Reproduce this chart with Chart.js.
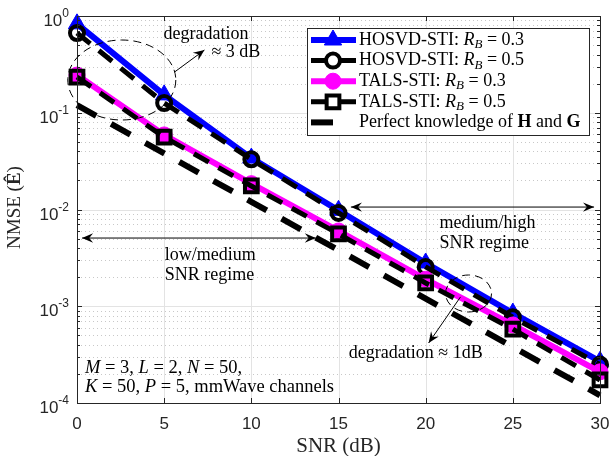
<!DOCTYPE html>
<html>
<head>
<meta charset="utf-8">
<script src="https://cdn.jsdelivr.net/npm/chart.js@4.4.1/dist/chart.umd.min.js"></script>
<style>
  html, body { margin: 0; padding: 0; background: #fff; }
</style>
</head>
<body>
<canvas id="nmseChart" width="613" height="456"></canvas>
<script>
// SNR points (dB)
var snr = [0, 5, 10, 15, 20, 25, 30];
// NMSE values
var hosvd03 = [0.83, 0.153, 0.034, 0.0098, 0.0028, 0.00085, 0.00027];
var hosvd05 = [0.667, 0.126, 0.033, 0.0092, 0.00255, 0.00077, 0.00025];
var tals03 = [0.245, 0.059, 0.0185, 0.0060, 0.0019, 0.00064, 0.00021];
var tals05 = [0.234, 0.056, 0.0175, 0.0056, 0.00174, 0.00058, 0.000173];
var perfect = [0.12, 0.038, 0.012, 0.0038, 0.0012, 0.00038, 0.00012];
var xTicks = [0, 5, 10, 15, 20, 25, 30];
var yExps = [0, -1, -2, -3, -4];

var SERIF = '"Liberation Serif", "Times New Roman", serif';
var SANS = '"Liberation Sans", Arial, sans-serif';
var AX = '#262626';

function pts(ys) {
    return snr.map(function (x, i) { return { x: x, y: ys[i] }; });
}

// draw mixed-style text: parts = [[text, style]], style '' | 'i' | 'b' | 'sub'
function rich(ctx, parts, x, y, size, align) {
    var w = 0;
    var fonts = parts.map(function (p) {
        var s = p[1];
        var f = s === 'i' ? 'italic ' + size + 'px ' + SERIF :
                s === 'b' ? 'bold ' + size + 'px ' + SERIF :
                s === 'sub' ? 'italic ' + Math.round(size * 0.7) + 'px ' + SERIF :
                size + 'px ' + SERIF;
        ctx.font = f;
        w += ctx.measureText(p[0]).width;
        return f;
    });
    var cx = align === 'center' ? x - w / 2 : (align === 'right' ? x - w : x);
    ctx.textAlign = 'left';
    ctx.textBaseline = 'middle';
    parts.forEach(function (p, i) {
        ctx.font = fonts[i];
        ctx.fillText(p[0], cx, p[1] === 'sub' ? y + size * 0.25 : y);
        cx += ctx.measureText(p[0]).width;
    });
}

function arrowHead(ctx, x1, y1, x2, y2, len) {
    var a = Math.atan2(y2 - y1, x2 - x1);
    ctx.beginPath();
    ctx.moveTo(x2, y2);
    ctx.lineTo(x2 - len * Math.cos(a - 0.4), y2 - len * Math.sin(a - 0.4));
    ctx.lineTo(x2 - len * 0.6 * Math.cos(a), y2 - len * 0.6 * Math.sin(a));
    ctx.lineTo(x2 - len * Math.cos(a + 0.4), y2 - len * Math.sin(a + 0.4));
    ctx.closePath();
    ctx.fill();
}

var figPlugin = {
    id: 'figPlugin',
    beforeDatasetsDraw: function (chart) {
        var ctx = chart.ctx, a = chart.chartArea;
        var xs = chart.scales.x, ys = chart.scales.y;
        ctx.save();
        // minor dotted grid
        ctx.strokeStyle = '#c8c8c8';
        ctx.lineWidth = 1;
        ctx.setLineDash([1, 3]);
        for (var e = -4; e < 0; e++) {
            for (var m = 2; m <= 9; m++) {
                var py = Math.round(ys.getPixelForValue(m * Math.pow(10, e))) + 0.5;
                ctx.beginPath(); ctx.moveTo(a.left, py); ctx.lineTo(a.right, py); ctx.stroke();
            }
        }
        // major grid
        ctx.setLineDash([]);
        ctx.strokeStyle = '#e3e3e3';
        xTicks.forEach(function (t) {
            var px = Math.round(xs.getPixelForValue(t)) + 0.5;
            ctx.beginPath(); ctx.moveTo(px, a.top); ctx.lineTo(px, a.bottom); ctx.stroke();
        });
        yExps.forEach(function (e) {
            var py = Math.round(ys.getPixelForValue(Math.pow(10, e))) + 0.5;
            ctx.beginPath(); ctx.moveTo(a.left, py); ctx.lineTo(a.right, py); ctx.stroke();
        });
        ctx.restore();
    },
    afterDraw: function (chart) {
        var ctx = chart.ctx, a = chart.chartArea;
        var xs = chart.scales.x, ys = chart.scales.y;
        var P = function (x, y) { return [xs.getPixelForValue(x), ys.getPixelForValue(y)]; };
        ctx.save();
        // axes box
        ctx.strokeStyle = AX;
        ctx.lineWidth = 1;
        ctx.strokeRect(Math.round(a.left) + 0.5, Math.round(a.top) + 0.5,
            Math.round(a.right - a.left), Math.round(a.bottom - a.top));
        // ticks
        ctx.beginPath();
        xTicks.forEach(function (t) {
            var px = Math.round(xs.getPixelForValue(t)) + 0.5;
            ctx.moveTo(px, a.bottom); ctx.lineTo(px, a.bottom - 5);
            ctx.moveTo(px, a.top); ctx.lineTo(px, a.top + 5);
        });
        for (var e = -4; e <= 0; e++) {
            for (var m = 1; m <= 9; m++) {
                if (e === 0 && m > 1) break;
                var py = Math.round(ys.getPixelForValue(m * Math.pow(10, e))) + 0.5;
                var len = m === 1 ? 5 : 3;
                ctx.moveTo(a.left, py); ctx.lineTo(a.left + len, py);
                ctx.moveTo(a.right, py); ctx.lineTo(a.right - len, py);
            }
        }
        ctx.stroke();

        // tick labels
        ctx.fillStyle = AX;
        ctx.textAlign = 'center';
        ctx.textBaseline = 'middle';
        ctx.font = '17px ' + SANS;
        xTicks.forEach(function (t) {
            ctx.fillText(String(t), xs.getPixelForValue(t), a.bottom + 21);
        });
        yExps.forEach(function (e) {
            var py = ys.getPixelForValue(Math.pow(10, e));
            var ex = String(e);
            ctx.font = '12px ' + SANS;
            var we = ctx.measureText(ex).width;
            ctx.font = '17px ' + SANS;
            var wb = ctx.measureText('10').width;
            var x0 = a.left - 8 - we - wb;
            ctx.textAlign = 'left';
            ctx.textBaseline = 'alphabetic';
            ctx.fillText('10', x0, py + 10);
            ctx.font = '12px ' + SANS;
            ctx.fillText(ex, x0 + wb, py + 1);
        });

        // axis titles
        ctx.fillStyle = AX;
        rich(ctx, [['SNR (dB)', '']], (a.left + a.right) / 2, 446, 21, 'center');
        ctx.save();
        ctx.translate(15, (a.top + a.bottom) / 2 - 2);
        ctx.rotate(-Math.PI / 2);
        rich(ctx, [['NMSE (', ''], ['\u00CA', 'b'], [')', '']], 0, 0, 19, 'center');
        ctx.restore();

        // annotations
        ctx.fillStyle = '#000';
        ctx.strokeStyle = '#000';
        ctx.lineWidth = 1;
        var c1 = P(2.57, 0.218);
        ctx.setLineDash([8, 5]);
        ctx.beginPath(); ctx.ellipse(c1[0], c1[1], 54, 40, 0, 0, Math.PI * 2); ctx.stroke();
        var c2 = P(22.46, 0.001355);
        ctx.beginPath(); ctx.ellipse(c2[0], c2[1], 23, 18.5, 0, 0, Math.PI * 2); ctx.stroke();
        ctx.setLineDash([]);
        var arrows = [
            [5.6, 0.264, 7.31, 0.445, false],
            [22.0, 0.00125, 20.17, 0.000417, false],
            [0.29, 0.00507, 13.7, 0.00507, true],
            [15.71, 0.0106, 29.66, 0.0106, true]
        ];
        arrows.forEach(function (r) {
            var s = P(r[0], r[1]), t = P(r[2], r[3]);
            ctx.beginPath(); ctx.moveTo(s[0], s[1]); ctx.lineTo(t[0], t[1]); ctx.stroke();
            arrowHead(ctx, s[0], s[1], t[0], t[1], 12);
            if (r[4]) arrowHead(ctx, t[0], t[1], s[0], s[1], 12);
        });
        var q, fs = 18;
        q = P(4.96, 0.64); rich(ctx, [['degradation', '']], q[0], q[1], fs, 'left');
        q = P(7.71, 0.424); rich(ctx, [['\u2248 3 dB', '']], q[0], q[1], fs, 'left');
        q = P(19.43, 0.000329); rich(ctx, [['degradation \u2248 1dB', '']], q[0], q[1], fs, 'center');
        q = P(5.03, 0.00339); rich(ctx, [['low/medium', '']], q[0], q[1], fs, 'left');
        q = P(5.03, 0.0021); rich(ctx, [['SNR regime', '']], q[0], q[1], fs, 'left');
        q = P(20.8, 0.00725); rich(ctx, [['medium/high', '']], q[0], q[1], fs, 'left');
        q = P(20.8, 0.0045); rich(ctx, [['SNR regime', '']], q[0], q[1], fs, 'left');
        q = P(0.46, 0.00023);
        rich(ctx, [['M', 'i'], [' = 3, ', ''], ['L', 'i'], [' = 2, ', ''], ['N', 'i'], [' = 50,', '']], q[0], q[1], 18.5, 'left');
        q = P(0.46, 0.000146);
        rich(ctx, [['K', 'i'], [' = 50, ', ''], ['P', 'i'], [' = 5, mmWave channels', '']], q[0], q[1], 18.5, 'left');

        // legend
        var lx = 307, ly = 28, lw = 282, lh = 107;
        ctx.fillStyle = '#fff';
        ctx.fillRect(lx, ly, lw, lh);
        ctx.strokeStyle = AX;
        ctx.lineWidth = 1;
        ctx.strokeRect(lx + 0.5, ly + 0.5, lw, lh);
        var legendText = [
            [['HOSVD-STI: ', ''], ['R', 'i'], ['B', 'sub'], [' = 0.3', '']],
            [['HOSVD-STI: ', ''], ['R', 'i'], ['B', 'sub'], [' = 0.5', '']],
            [['TALS-STI: ', ''], ['R', 'i'], ['B', 'sub'], [' = 0.3', '']],
            [['TALS-STI: ', ''], ['R', 'i'], ['B', 'sub'], [' = 0.5', '']],
            [['Perfect knowledge of ', ''], ['H', 'b'], [' and ', ''], ['G', 'b']]
        ];
        chart.data.datasets.forEach(function (ds, i) {
            var y = ly + 12 + i * 20.6;
            ctx.save();
            ctx.strokeStyle = ds.borderColor;
            ctx.lineWidth = ds.borderWidth;
            ctx.setLineDash(i === 4 ? [22, 40] : (ds.borderDash || []));
            ctx.beginPath(); ctx.moveTo(311, y); ctx.lineTo(i === 4 ? 333 : 356, y); ctx.stroke();
            ctx.setLineDash([]);
            if (ds.pointRadius > 0) {
                ctx.fillStyle = ds.pointBackgroundColor;
                ctx.strokeStyle = ds.pointBorderColor;
                ctx.lineWidth = ds.pointBorderWidth;
                Chart.helpers.drawPoint(ctx, {
                    pointStyle: ds.pointStyle, radius: ds.pointRadius,
                    borderWidth: ds.pointBorderWidth, rotation: 0
                }, 333, y);
            }
            ctx.restore();
            ctx.fillStyle = '#000';
            rich(ctx, legendText[i], 359, y, 18, 'left');
        });
        ctx.restore();
    }
};

var ctx = document.getElementById('nmseChart').getContext('2d');
var myChart = new Chart(ctx, {
    type: 'line',
    data: {
        datasets: [{
            label: 'HOSVD-STI: R_B = 0.3',
            data: pts(hosvd03),
            borderColor: '#0000ff',
            borderWidth: 6,
            pointStyle: 'triangle',
            pointRadius: 10,
            pointBackgroundColor: '#0000ff',
            pointBorderColor: '#0000ff',
            pointBorderWidth: 1,
            order: 5
        }, {
            label: 'HOSVD-STI: R_B = 0.5',
            data: pts(hosvd05),
            borderColor: '#000000',
            borderWidth: 5,
            borderDash: [17, 11],
            pointStyle: 'circle',
            pointRadius: 7,
            pointBackgroundColor: 'rgba(0,0,0,0)',
            pointBorderColor: '#000000',
            pointBorderWidth: 4,
            order: 4
        }, {
            label: 'TALS-STI: R_B = 0.3',
            data: pts(tals03),
            borderColor: '#ff00ff',
            borderWidth: 6,
            pointStyle: 'circle',
            pointRadius: 8,
            pointBackgroundColor: '#ff00ff',
            pointBorderColor: '#ff00ff',
            pointBorderWidth: 1,
            order: 3
        }, {
            label: 'TALS-STI: R_B = 0.5',
            data: pts(tals05),
            borderColor: '#000000',
            borderWidth: 5,
            borderDash: [17, 11],
            pointStyle: 'rect',
            pointRadius: 9,
            pointBackgroundColor: 'rgba(0,0,0,0)',
            pointBorderColor: '#000000',
            pointBorderWidth: 4,
            order: 2
        }, {
            label: 'Perfect knowledge of H and G',
            data: pts(perfect),
            borderColor: '#000000',
            borderWidth: 6,
            borderDash: [22, 17],
            pointRadius: 0,
            order: 1
        }]
    },
    options: {
        responsive: false,
        animation: false,
        clip: false,
        layout: { padding: { top: 16, right: 11, left: 0, bottom: 0 } },
        plugins: {
            legend: { display: false },
            tooltip: { enabled: false }
        },
        elements: { line: { tension: 0, borderCapStyle: 'butt' } },
        scales: {
            x: {
                type: 'linear',
                min: 0,
                max: 30,
                grid: { display: false },
                border: { display: false },
                ticks: { display: false },
                afterFit: function (s) { s.height = 53; }
            },
            y: {
                type: 'logarithmic',
                min: 1e-4,
                max: 1,
                grid: { display: false },
                border: { display: false },
                ticks: { display: false },
                afterFit: function (s) { s.width = 77; }
            }
        }
    },
    plugins: [figPlugin]
});
</script>
</body>
</html>
